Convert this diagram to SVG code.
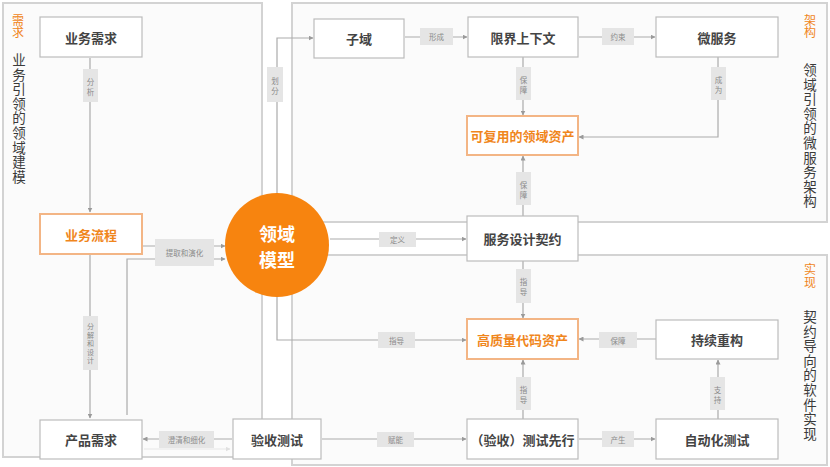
<svg xmlns="http://www.w3.org/2000/svg" width="830" height="467" viewBox="0 0 830 467">
<style>
text{font-family:"Noto Sans CJK SC","Noto Sans",sans-serif;text-anchor:middle;dominant-baseline:central}
.panel{fill:#fbfbfb;stroke:#d3d3d3;stroke-width:2}
.node rect{fill:#fff;stroke:#bcbcbc;stroke-width:1.2}
.node.hl rect{stroke:#f3b585;stroke-width:2}
.nt{font-size:13px;font-weight:bold;fill:#444}
.hl .nt{fill:#f0861c}
.conn path{fill:none;stroke:#ababab;stroke-width:1.2}
.conn path.faint{stroke:#e8e8e8}
.lb{fill:#e5e5e5}
.lt{font-size:7.5px;fill:#8a8a8a}
.lt.sm{font-size:7px}
.ptag{font-size:12px;fill:#f0861c}
.ptitle{font-size:13.5px;fill:#3a3a3a}
</style>
<defs>
<marker id="ah" viewBox="0 0 10 10" refX="9" refY="5" markerWidth="5" markerHeight="5" orient="auto" markerUnits="userSpaceOnUse">
<path d="M0,0 L10,5 L0,10 z" fill="#9a9a9a"/>
</marker>
<marker id="ahf" viewBox="0 0 10 10" refX="9" refY="5" markerWidth="5" markerHeight="5" orient="auto" markerUnits="userSpaceOnUse">
<path d="M0,0 L10,5 L0,10 z" fill="#e0e0e0"/>
</marker>
</defs>
<rect width="830" height="467" fill="#fff"/>
<g id="panels">
<rect class="panel" x="3" y="3" width="259" height="454"/>
<rect class="panel" x="292" y="3" width="535" height="219"/>
<rect class="panel" x="292" y="255" width="535" height="210"/>
<text class="ptag"><tspan x="18" y="18.5">需</tspan><tspan x="18" y="31">求</tspan></text>
<text class="ptitle"><tspan x="19" y="59">业</tspan><tspan x="19" y="73.6">务</tspan><tspan x="19" y="88.2">引</tspan><tspan x="19" y="102.8">领</tspan><tspan x="19" y="117.4">的</tspan><tspan x="19" y="132">领</tspan><tspan x="19" y="146.6">域</tspan><tspan x="19" y="161.2">建</tspan><tspan x="19" y="175.8">模</tspan></text>
<text class="ptag"><tspan x="810" y="18.5">架</tspan><tspan x="810" y="31">构</tspan></text>
<text class="ptitle"><tspan x="810" y="69">领</tspan><tspan x="810" y="83.6">域</tspan><tspan x="810" y="98.2">引</tspan><tspan x="810" y="112.8">领</tspan><tspan x="810" y="127.4">的</tspan><tspan x="810" y="142">微</tspan><tspan x="810" y="156.6">服</tspan><tspan x="810" y="171.2">务</tspan><tspan x="810" y="185.8">架</tspan><tspan x="810" y="200.4">构</tspan></text>
<text class="ptag"><tspan x="810" y="268">实</tspan><tspan x="810" y="280.5">现</tspan></text>
<text class="ptitle"><tspan x="810" y="316">契</tspan><tspan x="810" y="330.6">约</tspan><tspan x="810" y="345.2">导</tspan><tspan x="810" y="359.8">向</tspan><tspan x="810" y="374.4">的</tspan><tspan x="810" y="389">软</tspan><tspan x="810" y="403.6">件</tspan><tspan x="810" y="418.2">实</tspan><tspan x="810" y="432.8">现</tspan></text>
</g>
<g id="connectors" class="conn">
<path d="M90,58 V212" marker-end="url(#ah)"/>
<path d="M90,255 V418" marker-end="url(#ah)"/>
<path d="M143,246 H225" marker-end="url(#ah)"/>
<path d="M127,415 V259 H225" marker-end="url(#ah)"/>
<path d="M232,439 H143" marker-end="url(#ah)"/>
<path class="faint" d="M144,449 H230" marker-end="url(#ahf)"/>
<path d="M277,193 V38 H313" marker-end="url(#ah)"/>
<path d="M405,37 H467" marker-end="url(#ah)"/>
<path d="M579,37 H655" marker-end="url(#ah)"/>
<path d="M523,57 V115" marker-end="url(#ah)"/>
<path d="M718,57 V137 H579" marker-end="url(#ah)"/>
<path d="M523,216 V156" marker-end="url(#ah)"/>
<path d="M330,239 H466" marker-end="url(#ah)"/>
<path d="M523,261 V318" marker-end="url(#ah)"/>
<path d="M277,297 V340 H466" marker-end="url(#ah)"/>
<path d="M656,339 H579" marker-end="url(#ah)"/>
<path d="M523,419 V360" marker-end="url(#ah)"/>
<path d="M718,419 V360" marker-end="url(#ah)"/>
<path d="M579,439 H655" marker-end="url(#ah)"/>
<path d="M322,439 H466" marker-end="url(#ah)"/>
<g id="labels">
<rect class="lb" x="83" y="69" width="15" height="33"/>
<text class="lt"><tspan x="90.5" y="81">分</tspan><tspan x="90.5" y="91">析</tspan></text>
<rect class="lb" x="83" y="316" width="15" height="54"/>
<text class="lt sm"><tspan x="90.5" y="326">分</tspan><tspan x="90.5" y="334.5">解</tspan><tspan x="90.5" y="343">和</tspan><tspan x="90.5" y="351.5">设</tspan><tspan x="90.5" y="360">计</tspan></text>
<rect class="lb" x="155" y="239" width="59" height="27"/>
<text class="lt" x="184.5" y="252.5">提取和演化</text>
<rect class="lb" x="159" y="431" width="55" height="17"/>
<text class="lt" x="186.5" y="439.5">澄清和细化</text>
<rect class="lb" x="267" y="67" width="16" height="35"/>
<text class="lt"><tspan x="275" y="80">划</tspan><tspan x="275" y="90">分</tspan></text>
<rect class="lb" x="420" y="28" width="33" height="17"/>
<text class="lt" x="436.5" y="36.5">形成</text>
<rect class="lb" x="602" y="28" width="32" height="17"/>
<text class="lt" x="618" y="36.5">约束</text>
<rect class="lb" x="516" y="67" width="15" height="33"/>
<text class="lt"><tspan x="523.5" y="79">保</tspan><tspan x="523.5" y="89">障</tspan></text>
<rect class="lb" x="711" y="67" width="15" height="33"/>
<text class="lt"><tspan x="718.5" y="79">成</tspan><tspan x="718.5" y="89">为</tspan></text>
<rect class="lb" x="516" y="172" width="15" height="33"/>
<text class="lt"><tspan x="523.5" y="184">保</tspan><tspan x="523.5" y="194">障</tspan></text>
<rect class="lb" x="379" y="232" width="37" height="15"/>
<text class="lt" x="397.5" y="239.5">定义</text>
<rect class="lb" x="516" y="269" width="15" height="34"/>
<text class="lt"><tspan x="523.5" y="281">指</tspan><tspan x="523.5" y="291">导</tspan></text>
<rect class="lb" x="378" y="332" width="37" height="16"/>
<text class="lt" x="396.5" y="340">指导</text>
<rect class="lb" x="599" y="332" width="38" height="16"/>
<text class="lt" x="618" y="340">保障</text>
<rect class="lb" x="516" y="377" width="15" height="33"/>
<text class="lt"><tspan x="523.5" y="389">指</tspan><tspan x="523.5" y="399">导</tspan></text>
<rect class="lb" x="710" y="377" width="15" height="33"/>
<text class="lt"><tspan x="717.5" y="389">支</tspan><tspan x="717.5" y="399">持</tspan></text>
<rect class="lb" x="602" y="431" width="32" height="16"/>
<text class="lt" x="618" y="439">产生</text>
<rect class="lb" x="377" y="432" width="37" height="15"/>
<text class="lt" x="395.5" y="439.5">赋能</text>
</g>
</g>
<g id="n-yewuxuqiu" class="node"><rect x="40" y="17" width="102" height="40"/><text class="nt" x="91" y="37">业务需求</text></g>
<g id="n-yewuliucheng" class="node hl"><rect x="40" y="214" width="102" height="40"/><text class="nt" x="91" y="234">业务流程</text></g>
<g id="n-chanpinxuqiu" class="node"><rect x="40" y="420" width="102" height="39"/><text class="nt" x="91" y="439.5">产品需求</text></g>
<g id="n-yanshouceshi" class="node"><rect x="233" y="419" width="88" height="40"/><text class="nt" x="277" y="439">验收测试</text></g>
<g id="n-ziyu" class="node"><rect x="314" y="19" width="90" height="39"/><text class="nt" x="359" y="38.5">子域</text></g>
<g id="n-xianjie" class="node"><rect x="468" y="17" width="110" height="40"/><text class="nt" x="523" y="37">限界上下文</text></g>
<g id="n-weifuwu" class="node"><rect x="656" y="17" width="122" height="40"/><text class="nt" x="717" y="37">微服务</text></g>
<g id="n-kefuyong" class="node hl"><rect x="467" y="116" width="111" height="39"/><text class="nt" x="522.5" y="135.5">可复用的领域资产</text></g>
<g id="n-fuwusheji" class="node"><rect x="467" y="216" width="111" height="45"/><text class="nt" x="522.5" y="238.5">服务设计契约</text></g>
<g id="n-gaozhiliang" class="node hl"><rect x="467" y="319" width="111" height="40"/><text class="nt" x="522.5" y="339">高质量代码资产</text></g>
<g id="n-chixu" class="node"><rect x="656" y="320" width="122" height="39"/><text class="nt" x="717" y="339.5">持续重构</text></g>
<g id="n-ceshixianxing" class="node"><rect x="467" y="419" width="111" height="40"/><text class="nt" x="522.5" y="439">（验收）测试先行</text></g>
<g id="n-zidonghua" class="node"><rect x="656" y="419" width="122" height="40"/><text class="nt" x="717" y="439">自动化测试</text></g>
<g id="n-lingyumoxing"><circle cx="277" cy="245" r="52" fill="#f7840f"/><text x="277" y="233" font-size="18" font-weight="bold" fill="#fff">领域</text><text x="277" y="259" font-size="18" font-weight="bold" fill="#fff">模型</text></g>
</svg>
